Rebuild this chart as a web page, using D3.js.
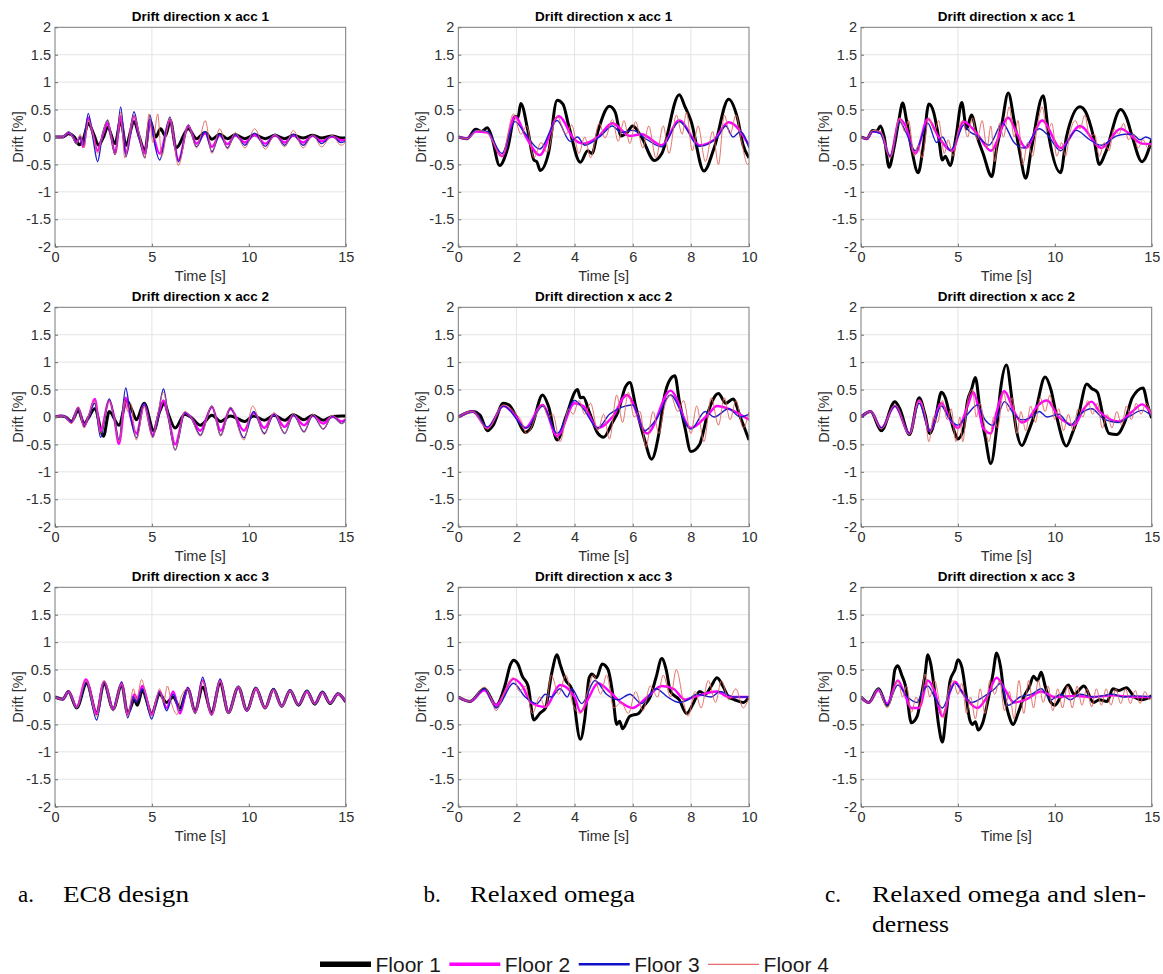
<!DOCTYPE html>
<html>
<head>
<meta charset="utf-8">
<script src="https://cdn.jsdelivr.net/npm/d3@7"></script>
<style>
  body { margin: 0; background: #fff; }
  svg { display: block; }
</style>
</head>
<body>
<svg id="chart" width="1163" height="974"></svg>
<script>
// labels
const floors = ["Floor 1", "Floor 2", "Floor 3", "Floor 4"];
const titles = ["Drift direction x acc 1", "Drift direction x acc 2", "Drift direction x acc 3"];
const captionMarks = ["a.", "b.", "c."];
const captionTexts = [["EC8 design"], ["Relaxed omega"], ["Relaxed omega and slen-", "derness"]];
const durations = [15, 10, 15];
const xTickSets = [[0, 5, 10, 15], [0, 2, 4, 6, 8, 10], [0, 5, 10, 15]];
const xGridSets = [[5], [2, 4, 6, 8], [5]];
const yTicks = [-2, -1.5, -1, -0.5, 0, 0.5, 1, 1.5, 2];

// drift [%] vs time [s] as [t, value] turning points
// ---- a. EC8 design ----
const a1_f1 = [[0,0],[0.4,0],[0.7,0.06],[1.0,0],[1.25,-0.14],[1.45,-0.05],[1.72,0.25],[2.0,0.05],[2.25,-0.15],[2.5,0],[2.72,0.18],[3.1,-0.12],[3.39,0.3],[3.66,-0.15],[4.08,0.28],[4.35,0],[4.64,-0.25],[4.9,0.3],[5.2,0],[5.45,0.15],[5.7,0.02],[5.95,0.3],[6.25,-0.2],[6.88,0.15],[7.3,-0.03],[7.75,0.08],[8.1,-0.04],[8.5,0.05],[8.9,-0.03],[9.3,0.04],[9.8,-0.03],[10.3,0.04],[10.85,-0.03],[11.35,0.03],[11.85,-0.03],[12.3,0.03],[12.8,-0.02],[13.3,0.03],[13.75,-0.02],[14.3,0.02],[14.75,-0.02],[15,-0.02]];
const a1_f2 = [[0,0],[0.4,0],[0.7,0.08],[0.9,0.02],[1.1,-0.1],[1.3,0],[1.45,-0.18],[1.72,0.35],[1.95,0.05],[2.2,-0.25],[2.45,0.02],[2.72,0.25],[2.9,0],[3.1,-0.3],[3.39,0.38],[3.66,-0.3],[4.08,0.38],[4.35,0],[4.64,-0.3],[4.9,0.3],[5.1,0],[5.4,-0.3],[5.93,0.3],[6.37,-0.42],[6.88,0.2],[7.3,-0.12],[7.75,0.07],[8.1,-0.18],[8.5,0.03],[8.9,-0.13],[9.3,0.03],[9.8,-0.1],[10.3,0.04],[10.85,-0.12],[11.35,0.03],[11.85,-0.1],[12.3,0.03],[12.8,-0.1],[13.3,0.02],[13.75,-0.08],[14.3,0.01],[14.75,-0.06],[15,-0.05]];
const a1_f3 = [[0,0],[0.4,0],[0.7,0.09],[0.9,0.02],[1.1,-0.12],[1.3,0],[1.45,-0.15],[1.72,0.43],[1.95,0],[2.2,-0.45],[2.45,0.05],[2.72,0.3],[2.9,0],[3.1,-0.32],[3.39,0.55],[3.66,-0.36],[4.08,0.46],[4.35,0],[4.64,-0.38],[4.9,0.4],[5.1,-0.05],[5.4,-0.42],[5.93,0.36],[6.37,-0.45],[6.88,0.22],[7.3,-0.18],[7.75,0.1],[8.1,-0.27],[8.5,0.05],[8.9,-0.2],[9.3,0.05],[9.8,-0.15],[10.3,0.07],[10.85,-0.17],[11.35,0.05],[11.85,-0.15],[12.3,0.05],[12.8,-0.15],[13.3,0.03],[13.75,-0.12],[14.3,0.02],[14.75,-0.1],[15,-0.08]];
const a1_f4 = [[0,0],[0.4,0],[0.7,0.1],[0.9,0],[1.1,-0.13],[1.3,0.05],[1.5,-0.2],[1.72,0.32],[1.95,0.05],[2.2,-0.3],[2.45,0.05],[2.72,0.32],[2.9,0],[3.1,-0.32],[3.39,0.45],[3.6,-0.38],[4.08,0.4],[4.35,0.05],[4.64,-0.38],[4.85,0.42],[5.05,-0.1],[5.3,0.42],[5.5,-0.35],[5.93,0.35],[6.37,-0.52],[6.88,0.22],[7.3,-0.2],[7.5,0],[7.75,0.3],[8.1,-0.3],[8.5,0.15],[8.9,-0.22],[9.3,0.08],[9.8,-0.2],[10.3,0.15],[10.85,-0.22],[11.35,0.05],[11.85,-0.18],[12.3,0.12],[12.8,-0.2],[13.3,0.04],[13.75,-0.18],[14.3,0.03],[14.75,-0.15],[15,-0.1]];

const a2_f1 = [[0,0],[0.3,0.02],[0.55,0],[0.85,-0.08],[1.2,0.12],[1.5,-0.12],[1.75,0],[2.05,0.15],[2.5,-0.35],[2.8,0.1],[3.3,-0.15],[3.7,0.3],[4.0,0.1],[4.2,-0.05],[4.6,0.25],[5.1,-0.25],[5.4,0.1],[5.65,0.25],[5.85,0.05],[6.2,-0.2],[6.7,0.05],[7.0,0],[7.5,-0.15],[8.1,0.03],[8.55,-0.08],[9.05,0.02],[9.8,-0.08],[10.25,0.02],[10.8,-0.06],[11.3,0.03],[11.85,-0.06],[12.3,0.04],[12.85,-0.05],[13.3,0.03],[13.85,-0.06],[14.3,0.01],[14.8,0.02],[15,0.02]];
const a2_f2 = [[0,0],[0.3,0.02],[0.55,0],[0.85,-0.1],[1.2,0.17],[1.5,-0.15],[1.75,0.02],[2.05,0.33],[2.35,-0.25],[2.8,0.3],[3.05,0],[3.3,-0.49],[3.65,0.35],[3.9,0],[4.2,-0.3],[4.6,0.22],[5.05,-0.33],[5.3,0],[5.6,0.3],[5.85,0],[6.2,-0.5],[6.7,0.08],[7.0,0],[7.5,-0.25],[8.1,0.18],[8.55,-0.25],[9.05,0.15],[9.75,-0.25],[10.25,0.08],[10.8,-0.2],[11.3,0.05],[11.85,-0.18],[12.3,0.03],[12.85,-0.15],[13.3,0.02],[13.85,-0.12],[14.3,0.01],[14.8,-0.08],[15,-0.04]];
const a2_f3 = [[0,0],[0.3,0.02],[0.55,0],[0.85,-0.1],[1.2,0.17],[1.5,-0.18],[1.75,0.02],[2.05,0.25],[2.35,-0.37],[2.8,0.33],[3.05,0],[3.3,-0.42],[3.65,0.53],[3.9,0],[4.2,-0.38],[4.6,0.25],[5.05,-0.36],[5.3,0],[5.6,0.51],[5.85,0],[6.2,-0.6],[6.7,0.08],[7.0,0],[7.5,-0.33],[8.1,0.2],[8.55,-0.33],[9.05,0.17],[9.75,-0.38],[10.25,0.1],[10.8,-0.3],[11.3,0.05],[11.85,-0.3],[12.3,0.04],[12.85,-0.27],[13.3,0.03],[13.85,-0.22],[14.3,0.02],[14.8,-0.12],[15,-0.05]];
const a2_f4 = [[0,0],[0.3,0.02],[0.55,0],[0.85,-0.12],[1.2,0.18],[1.5,-0.2],[1.75,0.05],[2.05,0.3],[2.35,-0.3],[2.8,0.3],[3.05,0],[3.3,-0.45],[3.6,0.3],[3.75,0.1],[3.9,0.25],[4.2,-0.42],[4.6,0.2],[5.05,-0.38],[5.3,0.05],[5.6,0.45],[5.85,0],[6.2,-0.6],[6.7,0.1],[7.0,0],[7.5,-0.35],[8.1,0.2],[8.55,-0.35],[9.05,0.18],[9.75,-0.42],[10.2,0.2],[10.8,-0.32],[11.3,0.08],[11.85,-0.3],[12.3,0.06],[12.85,-0.28],[13.3,0.05],[13.85,-0.22],[14.3,0.03],[14.8,-0.12],[15,-0.05]];

const a3_f1 = [[0,0],[0.4,-0.04],[0.69,0.1],[1.12,-0.2],[1.63,0.25],[2.15,-0.3],[2.53,0.25],[3.0,-0.22],[3.44,0.22],[3.75,-0.3],[4.1,-0.05],[4.25,-0.15],[4.5,0.12],[4.99,-0.3],[5.4,0.05],[5.76,-0.1],[6.1,0],[6.45,-0.2],[6.85,0.15],[7.23,-0.25],[7.62,0.18],[8.08,-0.28],[8.52,0.25],[8.95,-0.28],[9.46,0.18],[9.9,-0.24],[10.37,0.16],[10.84,-0.2],[11.27,0.14],[11.7,-0.17],[12.13,0.12],[12.56,-0.15],[13.0,0.11],[13.4,-0.13],[13.8,0.09],[14.2,-0.12],[14.6,0.06],[15,-0.09]];
const a3_f2 = [[0,0],[0.4,-0.04],[0.69,0.1],[1.12,-0.18],[1.6,0.32],[2.15,-0.3],[2.53,0.28],[3.0,-0.22],[3.44,0.25],[3.75,-0.32],[4.1,0.05],[4.25,-0.05],[4.5,0.2],[4.99,-0.32],[5.4,0.1],[5.76,-0.2],[6.1,0.1],[6.45,-0.3],[6.85,0.17],[7.23,-0.28],[7.62,0.3],[8.08,-0.32],[8.52,0.3],[8.95,-0.28],[9.46,0.18],[9.9,-0.25],[10.37,0.15],[10.84,-0.2],[11.27,0.13],[11.7,-0.17],[12.13,0.12],[12.56,-0.14],[13.0,0.1],[13.4,-0.12],[13.8,0.08],[14.2,-0.11],[14.6,0.06],[15,-0.08]];
const a3_f3 = [[0,0],[0.4,-0.04],[0.69,0.1],[1.12,-0.2],[1.63,0.27],[2.15,-0.42],[2.53,0.28],[3.0,-0.25],[3.44,0.28],[3.75,-0.38],[4.05,0],[4.2,-0.1],[4.5,0.15],[4.99,-0.4],[5.4,0.1],[5.76,-0.25],[6.1,0.05],[6.45,-0.25],[6.85,0.17],[7.23,-0.3],[7.62,0.36],[8.08,-0.33],[8.52,0.33],[8.95,-0.3],[9.46,0.2],[9.9,-0.25],[10.37,0.18],[10.84,-0.2],[11.27,0.15],[11.7,-0.18],[12.13,0.13],[12.56,-0.15],[13.0,0.12],[13.4,-0.13],[13.8,0.1],[14.2,-0.12],[14.6,0.07],[15,-0.08]];
const a3_f4 = [[0,0],[0.4,-0.04],[0.69,0.1],[1.12,-0.2],[1.6,0.3],[2.15,-0.35],[2.53,0.3],[3.0,-0.25],[3.44,0.25],[3.75,-0.35],[4.05,0.15],[4.2,-0.05],[4.47,0.32],[4.7,0],[4.99,-0.35],[5.4,0.15],[5.6,-0.1],[5.8,0.2],[6.0,-0.1],[6.3,-0.32],[6.5,0],[6.85,0.15],[7.23,-0.3],[7.62,0.3],[8.08,-0.33],[8.52,0.3],[8.95,-0.3],[9.46,0.2],[9.9,-0.25],[10.37,0.17],[10.84,-0.2],[11.27,0.14],[11.7,-0.18],[12.13,0.12],[12.56,-0.15],[13.0,0.11],[13.4,-0.13],[13.8,0.09],[14.2,-0.12],[14.6,0.06],[15,-0.08]];

// ---- b. Relaxed omega ----
const b1_f1 = [[0,0],[0.3,-0.03],[0.6,0.14],[0.8,0.1],[1.0,0.17],[1.15,0],[1.42,-0.52],[1.7,-0.2],[1.95,0.38],[2.05,0.35],[2.15,0.61],[2.4,0.1],[2.6,-0.42],[2.7,-0.45],[2.82,-0.61],[3.1,-0.3],[3.4,0.67],[3.6,0.6],[3.8,0.2],[4.2,-0.46],[4.45,-0.25],[4.6,-0.3],[4.8,0.1],[5.2,0.56],[5.4,0.45],[5.6,0.02],[5.8,0.08],[6.0,0.2],[6.3,0],[6.75,-0.43],[7.0,-0.3],[7.6,0.77],[7.8,0.55],[8.0,0.3],[8.45,-0.62],[8.8,-0.2],[9.3,0.69],[9.6,0.35],[9.8,-0.15],[10,-0.38]];
const b1_f2 = [[0,0],[0.3,-0.03],[0.6,0.1],[1.0,0.08],[1.5,-0.35],[1.95,0.37],[2.35,-0.02],[2.8,-0.33],[3.45,0.38],[4.0,-0.05],[4.3,-0.12],[4.8,0],[5.3,0.25],[5.9,0.02],[6.3,0.05],[7.0,-0.15],[7.6,0.3],[8.3,-0.15],[8.8,-0.05],[9.3,0.27],[10,-0.15]];
const b1_f3 = [[0,0],[0.3,-0.03],[0.6,0.12],[1.0,0.1],[1.5,-0.3],[1.95,0.28],[2.25,0.1],[2.8,-0.22],[3.4,0.3],[3.85,-0.08],[4.1,0],[4.35,-0.15],[4.9,0.02],[5.3,0.2],[5.6,0.08],[6.0,0.12],[6.5,-0.05],[7.0,-0.18],[7.6,0.28],[8.3,-0.17],[8.95,0.02],[9.2,0.2],[9.45,0],[9.7,0.1],[10,-0.2]];
const b1_f4 = [[0,0],[0.3,-0.03],[0.65,0.12],[1.0,0.08],[1.5,-0.35],[1.9,0.42],[2.15,0.05],[2.35,0.2],[2.6,-0.38],[2.85,-0.1],[3.05,-0.28],[3.4,0.38],[3.7,0.05],[3.9,0.22],[4.15,-0.3],[4.35,0],[4.55,-0.38],[4.85,0.25],[5.05,-0.02],[5.3,0.32],[5.5,-0.08],[5.7,0.3],[5.9,-0.12],[6.1,0.28],[6.35,-0.2],[6.55,0.2],[6.8,-0.38],[7.05,0.2],[7.25,-0.3],[7.5,0.4],[7.7,0.05],[7.85,0.45],[8.05,-0.25],[8.25,0.2],[8.5,-0.45],[8.75,0.1],[8.95,-0.5],[9.15,0.4],[9.35,0.05],[9.55,0.4],[9.75,-0.1],[9.95,-0.5],[10,-0.48]];

const b2_f1 = [[0,0],[0.5,0.1],[0.75,0.03],[1.0,-0.25],[1.2,-0.15],[1.55,0.25],[1.75,0.22],[2.0,0],[2.3,-0.28],[2.5,-0.2],[2.9,0.4],[3.1,0.2],[3.4,-0.42],[3.7,0],[4.1,0.5],[4.2,0.35],[4.3,0.36],[4.5,0.1],[4.8,-0.3],[5.0,-0.37],[5.3,-0.1],[5.5,0.1],[5.75,0.55],[5.9,0.63],[6.1,0.2],[6.4,-0.4],[6.65,-0.77],[6.9,-0.3],[7.1,0.4],[7.25,0.65],[7.45,0.75],[7.6,0.3],[7.8,-0.2],[8.0,-0.63],[8.3,-0.5],[8.6,0.1],[8.95,0.43],[9.2,0.25],[9.45,0.33],[9.7,0],[10,-0.42]];
const b2_f2 = [[0,0],[0.5,0.1],[1.0,-0.2],[1.55,0.2],[2.0,0],[2.3,-0.2],[2.9,0.22],[3.4,-0.35],[4.0,0.25],[4.3,0.2],[4.8,-0.2],[5.3,0],[5.8,0.4],[6.5,-0.3],[7.3,0.48],[8.0,-0.2],[8.6,0.05],[8.9,0.2],[9.3,0.15],[10,-0.05]];
const b2_f3 = [[0,0],[0.5,0.1],[1.0,-0.18],[1.55,0.2],[2.35,-0.2],[2.9,0.2],[3.4,-0.3],[4.0,0.3],[4.3,0.15],[4.8,-0.2],[5.2,0.05],[5.5,0.15],[6.0,0.22],[6.4,-0.25],[6.8,-0.05],[7.3,0.4],[8.0,-0.22],[8.5,0.1],[8.8,0],[9.3,0.15],[9.7,0],[10,0.05]];
const b2_f4 = [[0,0],[0.5,0.1],[1.0,-0.22],[1.55,0.22],[2.0,0.05],[2.15,-0.05],[2.35,-0.3],[2.9,0.22],[3.1,0],[3.25,0.05],[3.5,-0.45],[3.8,0.15],[3.95,0.05],[4.15,0.3],[4.35,0.05],[4.55,0.25],[4.8,-0.25],[5.0,0.05],[5.2,-0.4],[5.45,0.4],[5.65,-0.1],[5.85,0.45],[6.05,0],[6.25,0.1],[6.45,-0.55],[6.7,0.1],[6.9,-0.3],[7.1,0.2],[7.3,0.4],[7.55,0.1],[7.75,0.3],[8.0,-0.3],[8.2,0.2],[8.45,-0.45],[8.7,0.35],[8.95,-0.15],[9.15,0.35],[9.35,-0.05],[9.55,0.3],[9.8,-0.2],[10,0.1]];

const b3_f1 = [[0,0],[0.4,-0.08],[0.9,0.15],[1.3,-0.15],[1.6,0.2],[1.8,0.6],[1.9,0.67],[2.05,0.6],[2.2,0.38],[2.4,0.2],[2.6,-0.42],[2.8,-0.3],[3.0,-0.2],[3.2,0.4],[3.4,0.77],[3.5,0.6],[3.7,0.3],[3.9,0.15],[4.2,-0.77],[4.35,-0.4],[4.5,0.35],[4.6,0.42],[4.75,0.35],[4.95,0.6],[5.15,0.5],[5.3,0.1],[5.45,-0.5],[5.55,-0.44],[5.65,-0.58],[5.9,-0.35],[6.2,-0.3],[6.4,-0.15],[6.6,0],[6.8,0.35],[7.0,0.7],[7.15,0.5],[7.3,0.1],[7.6,-0.05],[7.85,-0.3],[8.1,-0.1],[8.3,0.1],[8.5,0.05],[8.7,0.2],[8.9,0.35],[9.1,0.2],[9.3,0],[9.5,-0.05],[9.8,-0.1],[10,0]];
const b3_f2 = [[0,0],[0.4,-0.08],[0.9,0.12],[1.3,-0.15],[1.9,0.33],[2.2,0.2],[2.5,-0.1],[3.0,-0.18],[3.5,0.22],[4.0,0],[4.2,-0.27],[4.5,0],[4.8,0.25],[5.2,0.1],[5.6,-0.1],[6.0,-0.2],[6.5,0],[7.0,0.2],[7.4,0.15],[7.8,-0.05],[8.1,0],[8.9,0.1],[9.3,0],[10,0]];
const b3_f3 = [[0,0],[0.4,-0.08],[0.9,0.15],[1.3,-0.2],[1.9,0.25],[2.3,0],[2.7,-0.12],[3.0,0.05],[3.2,0],[3.5,0.15],[3.75,0],[3.9,0.15],[4.25,-0.12],[4.7,0.3],[5.1,0.05],[5.5,-0.05],[5.9,0.05],[6.3,-0.12],[6.8,0.15],[7.2,0],[7.6,-0.1],[7.9,-0.05],[8.2,0.05],[8.7,0],[9.0,0.1],[9.5,0],[10,0]];
const b3_f4 = [[0,0],[0.4,-0.08],[0.9,0.18],[1.1,0],[1.3,-0.25],[1.6,0.1],[1.9,0.35],[2.1,0.1],[2.3,0.2],[2.55,-0.3],[2.8,0],[3.0,-0.2],[3.2,0.4],[3.45,0.05],[3.7,0.4],[3.95,-0.15],[4.2,-0.3],[4.45,0.1],[4.65,0.4],[4.9,0.05],[5.1,0.4],[5.35,-0.2],[5.6,-0.1],[5.85,-0.3],[6.1,0.1],[6.35,-0.25],[6.6,0.2],[6.85,0],[7.05,0.4],[7.3,0],[7.5,0.5],[7.75,-0.1],[7.9,-0.35],[8.15,0.1],[8.35,-0.2],[8.6,0.3],[8.85,-0.1],[9.05,0.3],[9.3,-0.05],[9.55,0.15],[9.8,-0.2],[10,0]];

// ---- c. Relaxed omega and slenderness ----
const c1_f1 = [[0,0],[0.3,-0.03],[0.6,0.12],[0.8,0.1],[1.0,0.2],[1.2,0],[1.45,-0.55],[1.7,-0.2],[1.95,0.3],[2.15,0.62],[2.35,0.3],[2.6,-0.2],[2.95,-0.65],[3.2,-0.2],[3.5,0.6],[3.75,0.45],[4.0,0],[4.2,-0.42],[4.35,-0.35],[4.6,-0.52],[4.9,0],[5.2,0.63],[5.45,0.15],[5.7,0.4],[6.0,0],[6.3,-0.3],[6.75,-0.72],[7.0,-0.2],[7.25,0.2],[7.6,0.8],[7.9,0.3],[8.2,-0.3],[8.5,-0.75],[8.8,-0.2],[9.4,0.75],[9.7,0],[10.3,-0.65],[10.6,0],[11.3,0.55],[11.6,0.45],[12.0,0],[12.3,-0.5],[12.6,-0.3],[13.4,0.5],[13.7,0.35],[14.0,0],[14.5,-0.45],[15,-0.05]];
const c1_f2 = [[0,0],[0.3,-0.03],[0.6,0.1],[1.0,0.08],[1.5,-0.35],[2.0,0.33],[2.3,0.2],[2.8,-0.3],[3.45,0.33],[4.0,0],[4.7,-0.25],[5.3,0.28],[6.0,0.05],[6.7,-0.25],[7.6,0.35],[8.0,0.1],[8.5,-0.2],[9.35,0.3],[10.3,-0.2],[11.3,0.2],[12.4,-0.2],[13.4,0.15],[14.5,-0.12],[15,-0.13]];
const c1_f3 = [[0,0],[0.3,-0.03],[0.6,0.1],[1.0,0.06],[1.5,-0.35],[2.0,0.28],[2.3,0.1],[2.8,-0.25],[3.45,0.25],[3.9,-0.1],[4.2,0],[4.6,-0.25],[5.0,0],[5.3,0.22],[5.6,0.1],[6.0,0.02],[6.6,-0.15],[7.3,0.25],[7.9,-0.1],[8.4,-0.2],[9.2,0.15],[9.6,0.05],[10.3,-0.25],[11.1,0.12],[11.8,-0.05],[12.4,-0.15],[13.2,0.02],[13.6,0.05],[14.0,0.05],[14.4,-0.05],[14.7,0],[15,-0.05]];
const c1_f4 = [[0,0],[0.3,-0.03],[0.6,0.12],[1.0,0.1],[1.5,-0.38],[2.0,0.35],[2.25,0.1],[2.45,0.3],[2.75,-0.35],[2.95,-0.15],[3.15,-0.38],[3.5,0.35],[3.8,0.1],[4.0,0.3],[4.3,-0.3],[4.5,-0.05],[4.75,-0.35],[5.0,0.1],[5.25,0.3],[5.5,0],[5.75,0.35],[6.0,-0.05],[6.25,0.3],[6.5,-0.2],[6.7,0.2],[6.9,-0.45],[7.15,0.25],[7.35,0],[7.65,0.55],[7.9,0],[8.1,0.3],[8.35,-0.5],[8.6,-0.1],[8.85,-0.35],[9.1,0.2],[9.35,0.55],[9.6,0.1],[9.85,0.25],[10.1,-0.35],[10.35,-0.1],[10.55,-0.35],[10.8,0.1],[11.05,0.3],[11.3,0.15],[11.55,0.4],[11.8,0],[12.05,0.05],[12.3,-0.35],[12.55,-0.1],[12.8,-0.25],[13.05,0.15],[13.3,0.05],[13.55,0.25],[13.8,-0.05],[14.05,0.05],[14.3,-0.2],[14.55,-0.05],[14.8,-0.2],[15,-0.1]];

const c2_f1 = [[0,0],[0.5,0.1],[1.05,-0.25],[1.75,0.28],[2.0,0.15],[2.5,-0.32],[3.0,0.35],[3.3,0.05],[3.55,-0.3],[3.85,0],[4.15,0.45],[4.35,0.35],[4.6,0],[4.85,-0.3],[5.0,-0.4],[5.3,-0.2],[5.5,0.3],[5.7,0.5],[5.9,0.72],[6.15,0.1],[6.4,-0.35],[6.7,-0.85],[7.0,-0.2],[7.2,0.5],[7.5,0.95],[7.8,0.3],[8.0,-0.2],[8.3,-0.52],[8.6,-0.3],[9.0,0.1],[9.5,0.73],[9.8,0.5],[10.1,0],[10.6,-0.53],[10.9,-0.3],[11.2,0],[11.65,0.6],[11.9,0.52],[12.2,0.45],[12.5,0],[12.8,-0.3],[13.2,-0.32],[13.6,-0.1],[14.0,0.35],[14.55,0.53],[14.8,0.2],[15,-0.02]];
const c2_f2 = [[0,0],[0.5,0.1],[1.05,-0.2],[1.75,0.2],[2.5,-0.3],[3.0,0.3],[3.55,-0.25],[4.15,0.25],[4.6,-0.05],[5.0,-0.2],[5.5,0.2],[5.8,0.45],[6.1,0.1],[6.3,-0.2],[6.7,-0.3],[7.0,0.1],[7.4,0.47],[7.9,0.1],[8.3,-0.1],[8.6,-0.05],[9.1,0.2],[9.6,0.3],[10.2,0],[10.6,-0.1],[11.0,-0.15],[11.5,0.15],[11.9,0.28],[12.3,0.1],[12.9,-0.05],[13.3,-0.08],[14.0,0.1],[14.5,0.23],[15,0.05]];
const c2_f3 = [[0,0],[0.5,0.1],[1.05,-0.2],[1.75,0.2],[2.5,-0.3],[3.0,0.25],[3.55,-0.25],[4.15,0.2],[4.5,0],[5.0,-0.15],[5.5,0.05],[6.0,0.22],[6.4,-0.05],[6.8,-0.15],[7.1,0.05],[7.4,0.28],[7.9,0.05],[8.3,-0.05],[8.8,0],[9.2,0.1],[9.6,0],[10.2,0.05],[10.8,-0.15],[11.3,0.05],[11.9,0.15],[12.5,-0.03],[13.3,-0.1],[13.8,0],[14.5,0.12],[15,0.02]];
const c2_f4 = [[0,0],[0.5,0.1],[1.05,-0.22],[1.75,0.22],[2.5,-0.32],[3.0,0.3],[3.3,0.05],[3.5,-0.45],[3.75,0],[3.95,-0.1],[4.2,0.3],[4.45,-0.05],[4.65,0.15],[4.9,-0.45],[5.1,0],[5.25,-0.45],[5.5,0.3],[5.75,0.5],[5.95,0],[6.15,0.25],[6.4,-0.2],[6.6,-0.45],[6.85,0],[7.05,-0.2],[7.35,0.45],[7.6,0.1],[7.8,0.35],[8.05,-0.3],[8.25,0.1],[8.5,-0.25],[8.75,0.2],[9.0,-0.1],[9.25,0.35],[9.5,0.1],[9.75,0.4],[10.0,-0.05],[10.2,0.15],[10.45,-0.25],[10.7,0.05],[10.95,-0.25],[11.2,0.15],[11.45,0],[11.7,0.3],[11.95,0.05],[12.2,0.25],[12.45,-0.2],[12.7,0.05],[12.95,-0.2],[13.2,0.1],[13.45,-0.15],[13.7,0.2],[13.95,-0.05],[14.2,0.25],[14.45,0.05],[14.7,0.25],[15,0]];

const c3_f1 = [[0,0],[0.4,-0.1],[0.9,0.15],[1.35,-0.15],[1.6,0.1],[1.75,0.5],[1.9,0.57],[2.1,0.4],[2.3,0.2],[2.6,-0.47],[2.9,-0.35],[3.1,0],[3.3,0.4],[3.45,0.77],[3.6,0.6],[3.8,0.1],[4.0,-0.5],[4.2,-0.82],[4.4,-0.3],[4.6,0.3],[4.85,0.5],[5.0,0.68],[5.2,0.55],[5.4,0.1],[5.6,-0.4],[5.75,-0.5],[5.9,-0.45],[6.05,-0.6],[6.3,-0.45],[6.5,-0.15],[6.8,0.4],[7.0,0.8],[7.2,0.55],[7.4,0],[7.6,-0.3],[7.85,-0.5],[8.1,-0.3],[8.4,0],[8.7,0.2],[8.9,0.38],[9.1,0.3],[9.3,0.45],[9.5,0.2],[9.8,-0.1],[10.0,-0.15],[10.3,0],[10.7,0.22],[11.0,0.05],[11.5,0.2],[12.0,-0.1],[12.3,-0.05],[12.7,-0.08],[13.0,0.15],[13.3,0.12],[13.7,0.17],[14.1,0],[14.5,-0.05],[15,0.02]];
const c3_f2 = [[0,0],[0.4,-0.1],[0.9,0.12],[1.35,-0.12],[1.9,0.3],[2.2,0.1],[2.6,-0.2],[3.0,-0.2],[3.45,0.3],[3.8,0.1],[4.2,-0.35],[4.6,0.1],[4.85,0.28],[5.2,0.1],[5.6,-0.1],[6.0,-0.2],[6.5,0],[7.0,0.35],[7.4,0.15],[7.9,-0.1],[8.5,-0.05],[9.3,0.1],[10,0],[11,0.02],[12,0],[13,0.03],[14,0],[15,0]];
const c3_f3 = [[0,0],[0.4,-0.1],[0.9,0.15],[1.35,-0.15],[1.9,0.22],[2.4,0],[2.9,-0.1],[3.1,0.05],[3.45,0.2],[3.8,0],[4.2,-0.2],[4.6,0.1],[4.85,0.25],[5.3,0.05],[5.7,-0.1],[6.3,0],[6.9,0.15],[7.2,0.25],[7.6,-0.15],[8.2,0],[8.8,0.05],[9.3,0.15],[9.8,-0.05],[10.3,0.05],[10.8,-0.05],[11.3,0.05],[12,0],[13,0.05],[13.5,0],[14,0.02],[15,0]];
const c3_f4 = [[0,0],[0.4,-0.1],[0.9,0.15],[1.35,-0.2],[1.6,0],[1.9,0.3],[2.15,0],[2.35,0.2],[2.6,-0.28],[2.85,0],[3.05,-0.2],[3.3,0.42],[3.55,0],[3.8,0.3],[4.05,-0.1],[4.25,-0.38],[4.5,0.1],[4.75,0.3],[5.0,0.05],[5.2,0.25],[5.45,-0.3],[5.65,0],[5.9,-0.4],[6.15,0.15],[6.4,-0.3],[6.65,0.3],[6.9,0.05],[7.15,0.3],[7.4,-0.25],[7.65,0.1],[7.9,-0.4],[8.15,0.3],[8.4,-0.3],[8.65,0.3],[8.9,-0.2],[9.15,0.3],[9.4,-0.1],[9.65,0.2],[9.9,-0.25],[10.15,0.15],[10.4,-0.2],[10.65,0.2],[10.9,-0.2],[11.15,0.2],[11.4,-0.15],[11.65,0.15],[11.9,-0.18],[12.15,0.15],[12.4,-0.15],[12.65,0.15],[12.9,-0.15],[13.15,0.15],[13.4,-0.12],[13.65,0.15],[13.9,-0.12],[14.15,0.12],[14.4,-0.12],[14.65,0.1],[14.9,-0.05],[15,0]];

// table: [column][row] -> four floor series
const panelSeries = [
  [[a1_f1, a1_f2, a1_f3, a1_f4], [a2_f1, a2_f2, a2_f3, a2_f4], [a3_f1, a3_f2, a3_f3, a3_f4]],
  [[b1_f1, b1_f2, b1_f3, b1_f4], [b2_f1, b2_f2, b2_f3, b2_f4], [b3_f1, b3_f2, b3_f3, b3_f4]],
  [[c1_f1, c1_f2, c1_f3, c1_f4], [c2_f1, c2_f2, c2_f3, c2_f4], [c3_f1, c3_f2, c3_f3, c3_f4]]
];

// layout + style
const colLeft = [55, 458.3, 861];
const rowTop = [27.3, 307.3, 587.3];
const pw = 290.7, ph = 219.4;
const floorColors = ["#000000", "#ff00ff", "#1c1cc8", "#e0655c"];
const floorWidths = [3, 2.4, 1.4, 0.9];
const sans = "'Liberation Sans', Arial, Helvetica, sans-serif";
const serif = "'Liberation Serif', 'Times New Roman', serif";

const svg = d3.select("#chart");
const y = d3.scaleLinear().domain([-2, 2]).range([ph, 0]);

panelSeries.forEach((col, ci) => {
  const x = d3.scaleLinear().domain([0, durations[ci]]).range([0, pw]);
  const line = d3.line()
    .x(d => x(d[0]))
    .y(d => y(d[1]))
    .curve(d3.curveMonotoneX);

  col.forEach((series, ri) => {
    const g = svg.append("g")
      .attr("transform", `translate(${colLeft[ci]},${rowTop[ri]})`);

    const clipId = `clip-${ci}-${ri}`;
    g.append("clipPath").attr("id", clipId)
      .append("rect").attr("width", pw).attr("height", ph);

    // grid
    g.selectAll(".hgrid")
      .data(yTicks.slice(1, -1))
      .enter().append("line")
      .attr("x1", 0).attr("x2", pw)
      .attr("y1", d => y(d)).attr("y2", d => y(d))
      .attr("stroke", "#e4e4e4").attr("stroke-width", 1);
    g.selectAll(".vgrid")
      .data(xGridSets[ci])
      .enter().append("line")
      .attr("x1", d => x(d)).attr("x2", d => x(d))
      .attr("y1", 0).attr("y2", ph)
      .attr("stroke", "#e4e4e4").attr("stroke-width", 1);

    // floor lines
    const lines = g.append("g").attr("clip-path", `url(#${clipId})`);
    series.forEach((s, fi) => {
      lines.append("path")
        .datum(s)
        .attr("d", line)
        .attr("fill", "none")
        .attr("stroke", floorColors[fi])
        .attr("stroke-width", floorWidths[fi])
        .attr("stroke-linejoin", "round");
    });

    // axes
    const xAxis = g.append("g")
      .attr("transform", `translate(0,${ph})`)
      .call(d3.axisBottom(x).tickValues(xTickSets[ci]).tickFormat(d => String(d))
        .tickSizeInner(-3).tickSizeOuter(0).tickPadding(5));
    const yAxis = g.append("g")
      .call(d3.axisLeft(y).tickValues(yTicks).tickFormat(d => String(d))
        .tickSizeInner(-3).tickSizeOuter(0).tickPadding(4));
    [xAxis, yAxis].forEach(a => {
      a.select(".domain").remove();
      a.selectAll(".tick line").attr("stroke", "#6e6e6e");
      a.selectAll(".tick text")
        .attr("fill", "#2e2e2e")
        .style("font-family", sans)
        .style("font-size", "14.5px");
    });

    g.append("rect")
      .attr("width", pw).attr("height", ph)
      .attr("fill", "none")
      .attr("stroke", "#7a7a7a").attr("stroke-width", 1);

    // title & labels
    g.append("text")
      .attr("x", pw / 2).attr("y", -6)
      .attr("text-anchor", "middle")
      .style("font-family", sans).style("font-size", "13.5px").style("font-weight", "bold")
      .attr("fill", "#000")
      .text(titles[ri]);

    g.append("text")
      .attr("transform", `translate(-32,${ph / 2}) rotate(-90)`)
      .attr("text-anchor", "middle")
      .style("font-family", sans).style("font-size", "14.5px")
      .attr("fill", "#2e2e2e")
      .text("Drift [%]");

    g.append("text")
      .attr("x", pw / 2).attr("y", ph + 34)
      .attr("text-anchor", "middle")
      .style("font-family", sans).style("font-size", "14.5px")
      .attr("fill", "#2e2e2e")
      .text("Time [s]");
  });
});

// captions under each column
const markX = [18, 423.5, 825];
const textX = [63, 470, 872];
const textLen = [[126], [165], [274, 77]];
captionMarks.forEach((m, i) => {
  svg.append("text")
    .attr("x", markX[i]).attr("y", 902)
    .style("font-family", serif).style("font-size", "23px")
    .attr("fill", "#000")
    .text(m);
  captionTexts[i].forEach((t, k) => {
    svg.append("text")
      .attr("x", textX[i]).attr("y", 902 + k * 30)
      .attr("textLength", textLen[i][k])
      .attr("lengthAdjust", "spacingAndGlyphs")
      .style("font-family", serif).style("font-size", "23px")
      .attr("fill", "#000")
      .text(t);
  });
});

// legend
const legendWidths = [5.5, 3.4, 2.4, 1.2];
const legendColors = ["#000000", "#ff00ff", "#1010c8", "#e86a6a"];
let lx = 320;
floors.forEach((f, i) => {
  svg.append("line")
    .attr("x1", lx).attr("x2", lx + 51)
    .attr("y1", 964.3).attr("y2", 964.3)
    .attr("stroke", legendColors[i])
    .attr("stroke-width", legendWidths[i]);
  const t = svg.append("text")
    .attr("x", lx + 55.5).attr("y", 971.5)
    .style("font-family", sans).style("font-size", "21px")
    .attr("fill", "#1a1a1a")
    .text(f);
  lx += 55.5 + t.node().getComputedTextLength() + 8.5;
});
</script>
</body>
</html>
